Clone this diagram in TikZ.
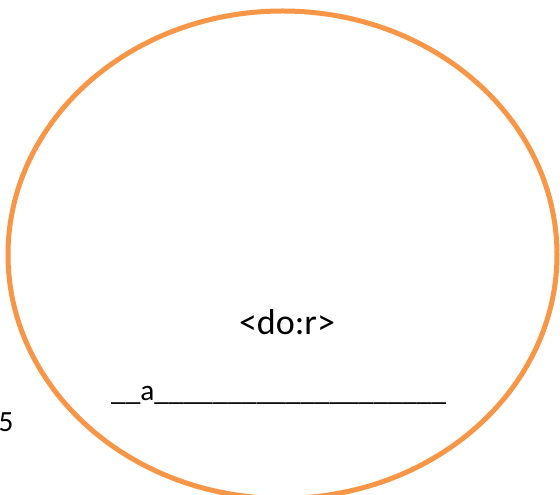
\documentclass[tikz,border=0pt]{standalone}
\usepackage{fontspec}
\setmainfont{Carlito}
\usetikzlibrary{shapes.geometric}
\definecolor{ringorange}{RGB}{247,150,70}
\begin{document}
\begin{tikzpicture}[x=1pt,y=1pt,
  ring/.style={ellipse,draw=ringorange,line width=5pt,inner sep=0pt,
    minimum width=549pt,minimum height=487.4pt},
  label/.style={inner sep=0pt,font=\fontsize{29.3}{34}\selectfont,text=black}]
\useasboundingbox (0,0) rectangle (560,495);
\node[ring] (ring) at (282.5,240.3) {};
\node[label,anchor=base,font=\fontsize{36}{42}\selectfont] (tag) at (287,160) {<do:r>};
\node[label,anchor=base west] (line) at (111,94) {\_\_a\_\_\_\_\_\_\_\_\_\_\_\_\_\_\_\_\_\_\_\_};
\node[label,anchor=base west] (five) at (-1.5,63) {5};
\end{tikzpicture}
\end{document}
